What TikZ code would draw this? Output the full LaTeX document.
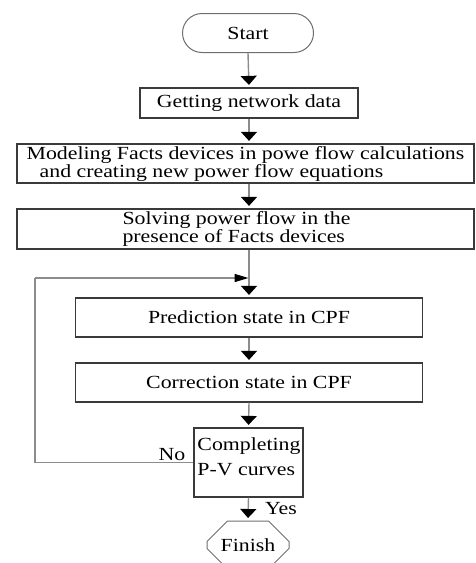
\documentclass[tikz,border=0pt]{standalone}
\usepackage{fontspec}
\setmainfont{Liberation Serif}[FakeStretch=1.18]
\usetikzlibrary{arrows.meta,shapes.misc}
\definecolor{boxline}{HTML}{3A3A3A}
\definecolor{conn}{HTML}{8C8C8C}
\definecolor{termline}{HTML}{6E6E6E}
\begin{document}
\begin{tikzpicture}[x=1pt,y=-1pt,
  every node/.style={font=\fontsize{18.5}{18}\selectfont, text=black},
  box/.style={draw=boxline, line width=1.2pt, rectangle, inner sep=2pt},
  term/.style={draw=termline, line width=1pt, inner sep=2pt},
  conn/.style={draw=conn, line width=1.4pt},
  arr/.style={conn, -{Triangle[width=16pt,length=9pt,black]}, shorten >=2.5pt},
  rarr/.style={conn, -{Triangle[width=8pt,length=14pt,black]}, shorten >=0.5pt},
  lbl/.style={inner sep=0pt}
]
\useasboundingbox (0,0) rectangle (475,563);

% nodes
\node[term, rectangle, rounded corners=19.5pt, minimum width=131pt, minimum height=39pt] (start) at (248,33) {Start};
\node[box, minimum width=218pt, minimum height=30pt] (get) at (249,103) {Getting network data};
\node[box, minimum width=457pt, minimum height=39pt, align=left,
      font=\fontsize{18.5}{16.5}\selectfont] (model) at (245.5,163.5)
  {Modeling Facts devices in powe flow calculations\\\hspace*{13pt}and creating new power flow equations};
\node[box, minimum width=457pt, minimum height=40pt, align=left,
      font=\fontsize{18.5}{18}\selectfont] (solve) at (245.5,229)
  {Solving power flow in the\hspace*{18pt}\\presence of Facts devices\hspace*{18pt}};
\coordinate (join) at (249,278);
\coordinate (loopc) at (35,278);
\node[box, minimum width=347pt, minimum height=39pt] (pred) at (249,317.5) {Prediction state in CPF};
\node[box, minimum width=347pt, minimum height=39pt] (corr) at (249,382.5) {Correction state in CPF};
\node[box, minimum width=109pt, minimum height=69pt] (comp) at (248.5,462.5) {};
\node[lbl, align=left, font=\fontsize{18.5}{25}\selectfont] (comptext) at (249,456.5) {Completing\\P-V curves};
\node[term, chamfered rectangle, chamfered rectangle xsep=27pt, chamfered rectangle ysep=14pt,
      minimum width=82pt, minimum height=48pt, inner sep=0pt] (finish) at (248,545) {Finish};
\node[lbl] (no) at (172,455) {No};
\node[lbl] (yes) at (281,509) {Yes};

% connectors
\draw[arr] (start.south) -- (get.north);
\draw[arr] (get.south) -- (get.south |- model.north);
\draw[arr] (model.south -| join) -- (solve.north -| join);
\draw[arr] (solve.south -| join) -- (pred.north);
\draw[arr] (pred.south) -- (corr.north);
\draw[arr] (corr.south) -- (comp.north);
\draw[arr] (comp.south) -- (finish.north);
\draw[conn] (comp.west) -| (loopc);
\draw[rarr] (loopc) -- (join);
\end{tikzpicture}
\end{document}
